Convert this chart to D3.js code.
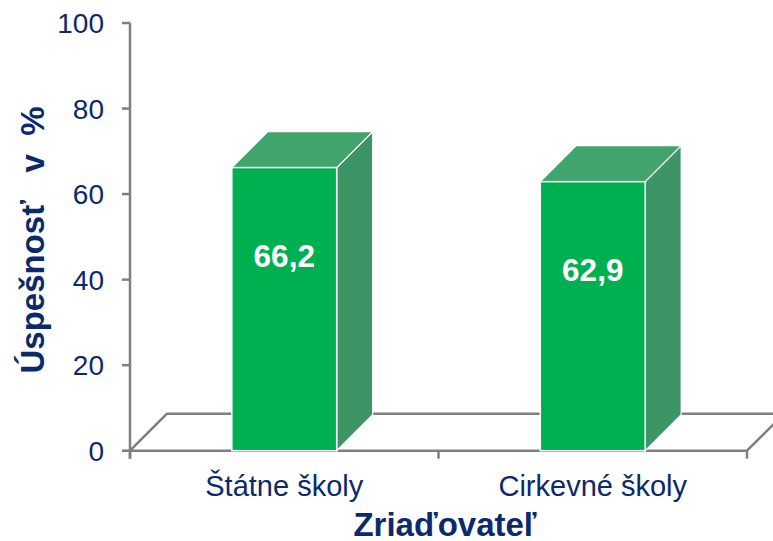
<!DOCTYPE html>
<html>
<head>
<meta charset="utf-8">
<script src="https://cdn.jsdelivr.net/npm/d3@7"></script>
<style>
body { margin: 0; background: #fff; }
text { font-family: Arial, "Liberation Sans", sans-serif; }
</style>
</head>
<body>
<svg></svg>
<script>
var categories = ["Štátne školy", "Cirkevné školy"];
var values = [66.2, 62.9];
var valueLabels = ["66,2", "62,9"];
var yTicks = [0, 20, 40, 60, 80, 100];

var WIDTH = 773, HEIGHT = 541;
var DEPTH = 37;      // 3D floor depth
var BAR_DEPTH = 36;
var NAVY = "#0b2a6b";
var AXIS = "#7f7f7f";

var svg = d3.select("svg")
    .attr("width", WIDTH)
    .attr("height", HEIGHT);

var y = d3.scaleLinear().domain([0, 100]).range([450.7, 23]);
var x = d3.scaleBand().domain(categories).range([130, 747])
    .paddingInner(0.66).paddingOuter(0.33);

var y0 = y(0), xl = 130, xr = 747;

// floor
svg.append("path")
    .attr("d", d3.line()([[xl, y0], [xr, y0], [xr + DEPTH, y0 - DEPTH], [xl + DEPTH, y0 - DEPTH], [xl, y0]]))
    .attr("fill", "none")
    .attr("stroke", AXIS)
    .attr("stroke-width", 2.5)
    .attr("stroke-linejoin", "round");

// y axis
svg.append("line")
    .attr("x1", xl).attr("x2", xl)
    .attr("y1", y(100)).attr("y2", y0 + 8)
    .attr("stroke", AXIS).attr("stroke-width", 2.5);

svg.selectAll(".ytick")
    .data(yTicks)
    .enter().append("line")
    .attr("x1", xl - 8).attr("x2", xl)
    .attr("y1", function(d) { return y(d); })
    .attr("y2", function(d) { return y(d); })
    .attr("stroke", AXIS).attr("stroke-width", 2.5);

svg.selectAll(".ylab")
    .data(yTicks)
    .enter().append("text")
    .attr("x", 104)
    .attr("y", function(d) { return y(d) + 10; })
    .attr("text-anchor", "end")
    .attr("font-size", 28)
    .attr("fill", NAVY)
    .text(function(d) { return d; });

// category ticks on the band boundaries
var bounds = [xl, (xl + xr) / 2, xr];
svg.selectAll(".xtick")
    .data(bounds)
    .enter().append("line")
    .attr("x1", function(d) { return d; })
    .attr("x2", function(d) { return d; })
    .attr("y1", y0).attr("y2", y0 + 8)
    .attr("stroke", AXIS).attr("stroke-width", 2.5);

// bars
var bar = svg.selectAll(".bar")
    .data(values)
    .enter().append("g");

bar.append("path")  // side
    .attr("d", function(d, i) {
        var bx = x(categories[i]) + x.bandwidth(), top = y(d);
        return d3.line()([[bx, top], [bx + BAR_DEPTH, top - BAR_DEPTH], [bx + BAR_DEPTH, y0 - BAR_DEPTH], [bx, y0]]) + "Z";
    })
    .attr("fill", "#3d9464")
    .attr("stroke", "#fff").attr("stroke-width", 1.2);

bar.append("path")  // top
    .attr("d", function(d, i) {
        var bx = x(categories[i]), w = x.bandwidth(), top = y(d);
        return d3.line()([[bx, top], [bx + BAR_DEPTH, top - BAR_DEPTH], [bx + w + BAR_DEPTH, top - BAR_DEPTH], [bx + w, top]]) + "Z";
    })
    .attr("fill", "#41a46d")
    .attr("stroke", "#fff").attr("stroke-width", 1.2);

bar.append("rect")  // front
    .attr("x", function(d, i) { return x(categories[i]); })
    .attr("y", function(d) { return y(d); })
    .attr("width", x.bandwidth())
    .attr("height", function(d) { return y0 - y(d); })
    .attr("fill", "#00b050")
    .attr("stroke", "#fff").attr("stroke-width", 1.5);

bar.append("text")
    .attr("x", function(d, i) { return x(categories[i]) + x.bandwidth() / 2; })
    .attr("y", function(d) { return y(d) + 99; })
    .attr("text-anchor", "middle")
    .attr("font-size", 31.5)
    .attr("font-weight", "bold")
    .attr("fill", "#fff")
    .text(function(d, i) { return valueLabels[i]; });

// category labels
svg.selectAll(".xlab")
    .data(categories)
    .enter().append("text")
    .attr("x", function(d) { return x(d) + x.bandwidth() / 2; })
    .attr("y", 496)
    .attr("text-anchor", "middle")
    .attr("font-size", 29)
    .attr("fill", NAVY)
    .text(function(d) { return d; });

// axis titles
svg.append("text")
    .attr("x", 445).attr("y", 536)
    .attr("text-anchor", "middle")
    .attr("font-size", 33)
    .attr("font-weight", "bold")
    .attr("fill", NAVY)
    .text("Zriaďovateľ");

svg.append("text")
    .attr("transform", "translate(44,240) rotate(-90)")
    .attr("text-anchor", "middle")
    .attr("font-size", 33)
    .attr("font-weight", "bold")
    .attr("fill", NAVY)
    .attr("xml:space", "preserve")
    .style("white-space", "pre")
    .text("Úspešnosť   v  %");
</script>
</body>
</html>
